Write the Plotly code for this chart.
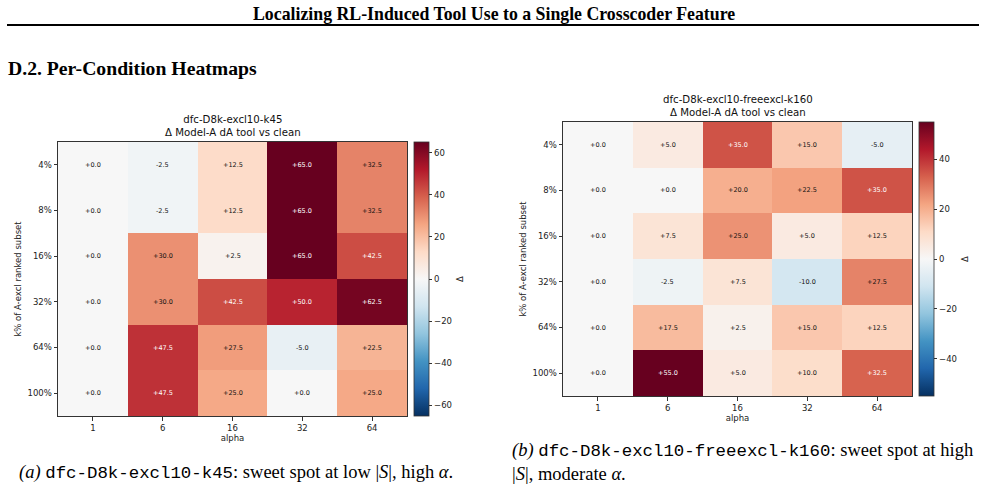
import plotly.graph_objects as go

W, H = 985, 498

alphas = ["1", "6", "16", "32", "64"]
ks = ["4%", "8%", "16%", "32%", "64%", "100%"]

z_a = [
    [0.0, -2.5, 12.5, 65.0, 32.5],
    [0.0, -2.5, 12.5, 65.0, 32.5],
    [0.0, 30.0, 2.5, 65.0, 42.5],
    [0.0, 30.0, 42.5, 50.0, 62.5],
    [0.0, 47.5, 27.5, -5.0, 22.5],
    [0.0, 47.5, 25.0, 0.0, 25.0],
]
z_b = [
    [0.0, 5.0, 35.0, 15.0, -5.0],
    [0.0, 0.0, 20.0, 22.5, 35.0],
    [0.0, 7.5, 25.0, 5.0, 12.5],
    [0.0, -2.5, 7.5, -10.0, 27.5],
    [0.0, 17.5, 2.5, 15.0, 12.5],
    [0.0, 55.0, 5.0, 10.0, 32.5],
]
vmax_a = 65.0
vmax_b = 55.0
cbar_ticks_a = [-60, -40, -20, 0, 20, 40, 60]
cbar_ticks_b = [-40, -20, 0, 20, 40]

title_a = "dfc-D8k-excl10-k45<br>Δ Model-A dA tool vs clean"
title_b = "dfc-D8k-excl10-freeexcl-k160<br>Δ Model-A dA tool vs clean"

rdbu_r = ['#053061', '#2166ac', '#4393c3', '#92c5de', '#d1e5f0', '#f7f7f7',
          '#fddbc7', '#f4a582', '#d6604d', '#b2182b', '#67001f']
cscale = [[i / (len(rdbu_r) - 1), c] for i, c in enumerate(rdbu_r)]

SANS = "DejaVu Sans"
SERIF = "Liberation Serif"
MONO = "Liberation Mono"
FS = 8.5

def px(x):
    return x / W

def py(y):
    return 1 - y / H

fig = go.Figure()
fig.add_trace(go.Heatmap(z=z_a, x=alphas, y=ks, coloraxis="coloraxis",
                         xaxis="x", yaxis="y", hoverinfo="skip"))
fig.add_trace(go.Heatmap(z=z_b, x=alphas, y=ks, coloraxis="coloraxis2",
                         xaxis="x2", yaxis="y2", hoverinfo="skip"))

ann = []
for z, vmax, xr, yr in [(z_a, vmax_a, "x", "y"), (z_b, vmax_b, "x2", "y2")]:
    for i, row in enumerate(z):
        for j, v in enumerate(row):
            # category axes: use positional indices
            ann.append(dict(x=j, y=i, xref=xr, yref=yr,
                            text=f"{v:+.1f}", showarrow=False,
                            font=dict(family=SANS, size=6.5,
                                      color="white" if abs(v) > 0.5 * vmax else "#111")))

def minus(v):
    return str(v).replace("-", "\u2212")

def cbar(x0, y0, y1, ticks):
    return dict(x=px(x0), xanchor="left", xref="paper", xpad=0, ypad=0,
                y=py((y0 + y1) / 2), yanchor="middle", yref="paper",
                len=(y1 - y0) / H, lenmode="fraction",
                thickness=15, thicknessmode="pixels",
                outlinewidth=0.8, outlinecolor="#333",
                ticks="outside", ticklen=3.5, tickwidth=0.8, tickcolor="#333",
                tickvals=ticks, ticktext=[minus(t) for t in ticks],
                tickfont=dict(family=SANS, size=FS, color="#222"))

axis_common = dict(showline=True, mirror=True, linecolor="#333", linewidth=1,
                   ticks="outside", ticklen=3.5, tickwidth=0.8, tickcolor="#333",
                   tickfont=dict(family=SANS, size=FS, color="#222"),
                   showgrid=False, zeroline=False, type="category", tickangle=0)

# geometry (pixels)
A = dict(l=58, r=407, t=142, b=416, cb=414)
B = dict(l=563, r=912, t=122, b=396, cb=919)

fig.update_layout(
    width=W, height=H, margin=dict(l=0, r=0, t=0, b=0),
    paper_bgcolor="white", plot_bgcolor="white", showlegend=False,
    coloraxis=dict(colorscale=cscale, cmin=-vmax_a, cmax=vmax_a,
                   colorbar=cbar(A["cb"], A["t"], A["b"], cbar_ticks_a)),
    coloraxis2=dict(colorscale=cscale, cmin=-vmax_b, cmax=vmax_b,
                    colorbar=cbar(B["cb"], B["t"], B["b"], cbar_ticks_b)),
    xaxis=dict(domain=[px(A["l"]), px(A["r"])], anchor="y",
               title=dict(text="alpha", font=dict(family=SANS, size=FS, color="#222"), standoff=2),
               **axis_common),
    yaxis=dict(domain=[py(A["b"]), py(A["t"])], anchor="x", autorange="reversed",
               title=dict(text="k% of A-excl ranked subset", font=dict(family=SANS, size=FS, color="#222"), standoff=4),
               **axis_common),
    xaxis2=dict(domain=[px(B["l"]), px(B["r"])], anchor="y2",
                title=dict(text="alpha", font=dict(family=SANS, size=FS, color="#222"), standoff=2),
                **axis_common),
    yaxis2=dict(domain=[py(B["b"]), py(B["t"])], anchor="x2", autorange="reversed",
                title=dict(text="k% of A-excl ranked subset", font=dict(family=SANS, size=FS, color="#222"), standoff=4),
                **axis_common),
)

# chart titles
for g, t in [(A, title_a), (B, title_b)]:
    ann.append(dict(x=px((g["l"] + g["r"]) / 2), y=py(g["t"] - 2), xref="paper", yref="paper",
                    xanchor="center", yanchor="bottom", text=t, showarrow=False,
                    font=dict(family=SANS, size=10.2, color="#111")))
    ann.append(dict(x=px(g["cb"] + 46), y=py((g["t"] + g["b"]) / 2), xref="paper", yref="paper",
                    xanchor="center", yanchor="middle", text="Δ", textangle=-90, showarrow=False,
                    font=dict(family=SANS, size=FS, color="#222")))

# page text
ann.append(dict(x=px(494), y=py(14), xref="paper", yref="paper", xanchor="center", yanchor="middle",
                text="<b>Localizing RL-Induced Tool Use to a Single Crosscoder Feature</b>",
                showarrow=False, font=dict(family=SERIF, size=17.8, color="black")))
ann.append(dict(x=px(6), y=py(68), xref="paper", yref="paper", xanchor="left", yanchor="middle",
                text="<b>D.2. Per-Condition Heatmaps</b>",
                showarrow=False, font=dict(family=SERIF, size=19.7, color="black")))

def mono(s):
    return f'<span style="font-family:{MONO};font-size:17.4px">{s}</span>'

ann.append(dict(x=px(17), y=py(472), xref="paper", yref="paper", xanchor="left", yanchor="middle",
                text="<i>(a)</i> " + mono("dfc-D8k-excl10-k45") + ": sweet spot at low |<i>S</i>|, high <i>α</i>.",
                showarrow=False, font=dict(family=SERIF, size=18.5, color="black")))
ann.append(dict(x=px(510), y=py(462), xref="paper", yref="paper", xanchor="left", yanchor="middle",
                align="left",
                text="<i>(b)</i> " + mono("dfc-D8k-excl10-freeexcl-k160") + ": sweet spot at high<br>|<i>S</i>|, moderate <i>α</i>.",
                showarrow=False, font=dict(family=SERIF, size=18.5, color="black")))

fig.update_layout(annotations=ann)
fig.add_shape(type="line", xref="paper", yref="paper", x0=px(7), x1=px(979), y0=py(25), y1=py(25),
              line=dict(color="black", width=2))

fig.write_html("out.html")
